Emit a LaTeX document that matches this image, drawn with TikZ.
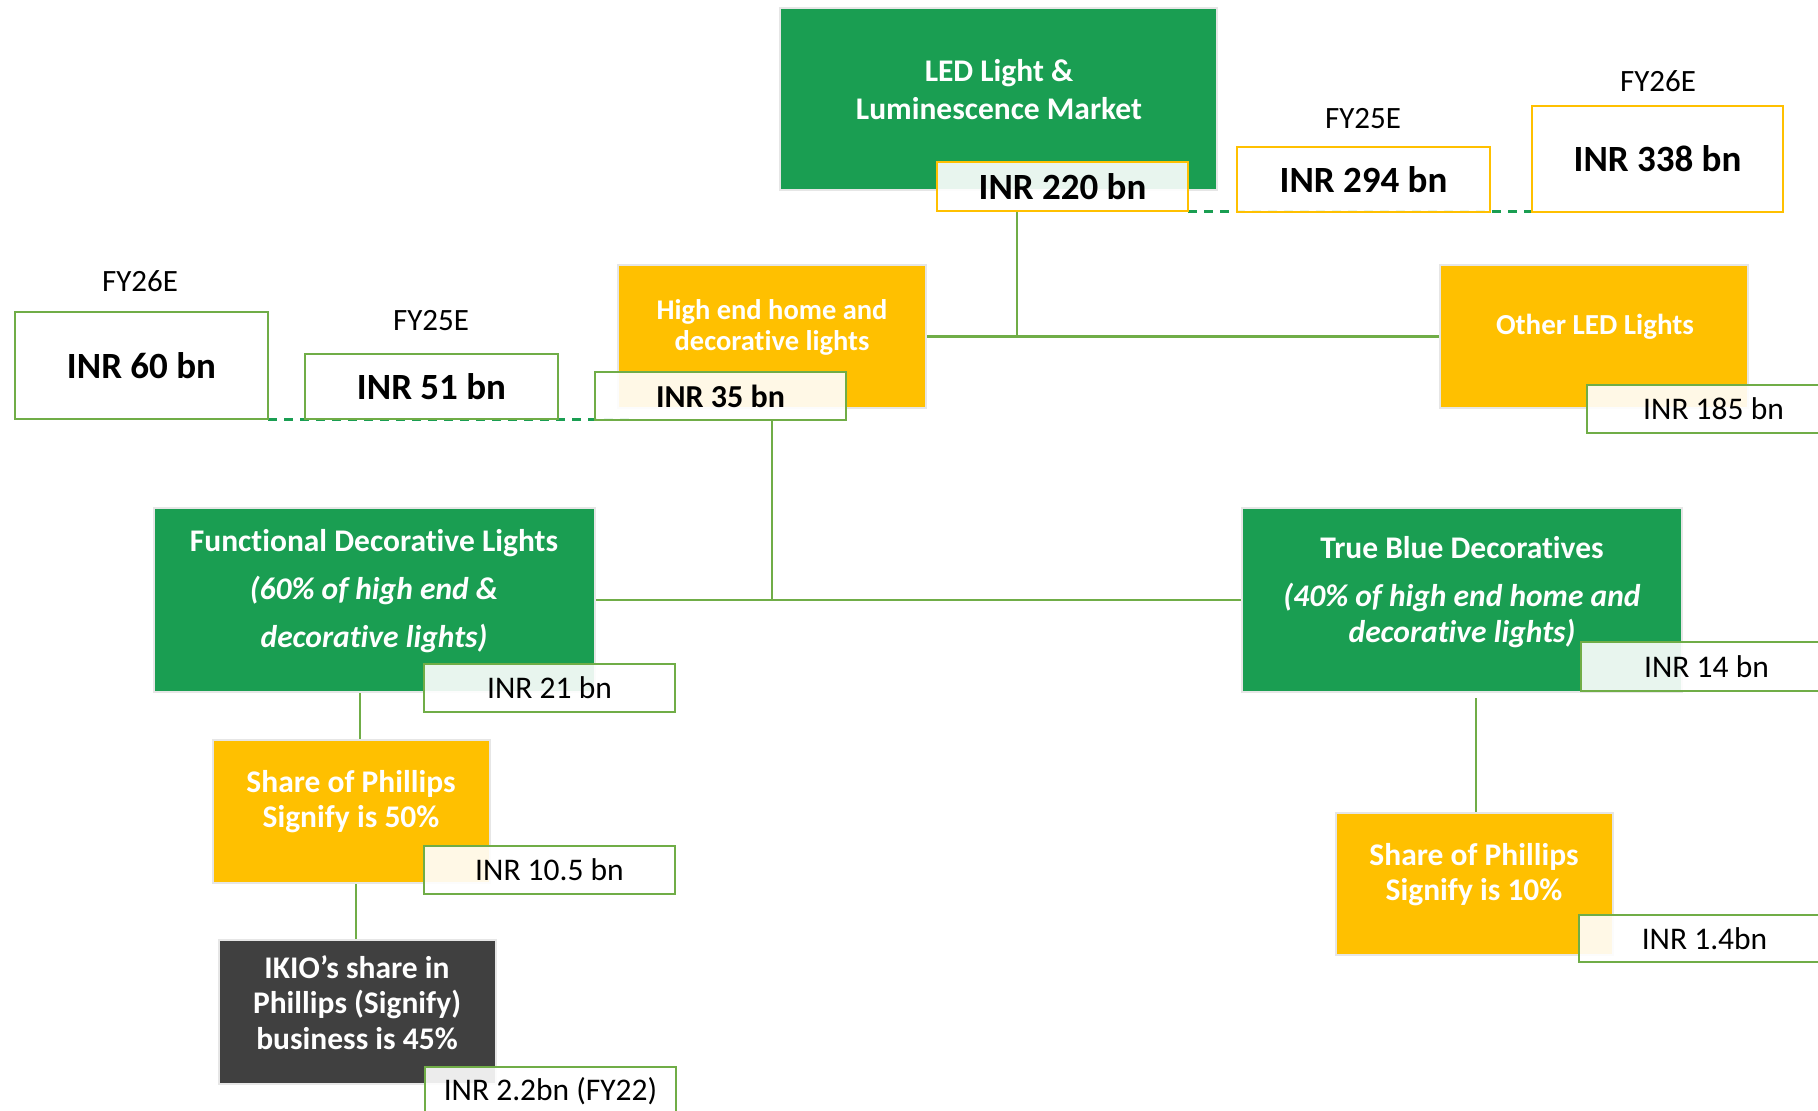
\documentclass[tikz,border=0pt]{standalone}
\usepackage{fontspec}
\setmainfont{Carlito}[Ligatures=NoCommon]
\usetikzlibrary{calc,backgrounds}
\definecolor{ledgreen}{HTML}{1A9E52}
\definecolor{ledorange}{HTML}{FFC000}
\definecolor{leddark}{HTML}{404040}
\definecolor{linegreen}{HTML}{70AD47}
\definecolor{dashgreen}{HTML}{1A9E52}
\definecolor{boxgray}{HTML}{E6E6E6}
\begin{document}
\begin{tikzpicture}[x=1pt,y=-1pt,
  mainbox/.style={draw=boxgray, line width=2.5pt, inner sep=0pt, outer sep=0pt},
  valbox/.style={draw=#1, line width=2.5pt, fill=white, fill opacity=0.9, text opacity=1, inner sep=0pt, outer sep=0pt, text=black},
  wtxt/.style={text=white, align=center, inner sep=0pt},
  conn/.style={draw=linegreen, line width=2.5pt},
  dashln/.style={draw=dashgreen, line width=3pt, dash pattern=on 9pt off 7pt},
  fy/.style={font=\fontsize{31}{34}\selectfont, inner sep=0pt},
  bignum/.style={font=\bfseries\fontsize{37}{40}\selectfont},
  smallnum/.style={font=\fontsize{31.5}{34}\selectfont},
]
\useasboundingbox (0,0) rectangle (1818,1111);

% ---- main boxes ----
\node[mainbox, fill=ledgreen, minimum width=437pt, minimum height=182pt] (led) at (998.5,99) {};
\node[wtxt, font=\bfseries\fontsize{31.5}{38}\selectfont] (ledt) at (999,90) {LED Light \&\\Luminescence Market};

\node[mainbox, fill=ledorange, minimum width=308pt, minimum height=143pt] (highend) at (772,336.5) {};
\node[wtxt, font=\bfseries\fontsize{28.5}{31}\selectfont] (highendt) at (772,327.5) {High end home and\\decorative lights};

\node[mainbox, fill=ledorange, minimum width=308pt, minimum height=143pt] (other) at (1594,336.5) {};
\node[wtxt, font=\bfseries\fontsize{29}{32}\selectfont] (othert) at (1595,327) {Other LED Lights};

\node[mainbox, fill=ledgreen, minimum width=441pt, minimum height=184pt] (fdl) at (374.5,600) {};
\node[wtxt, font=\bfseries\fontsize{31.5}{48}\selectfont] (fdlt) at (374,591) {Functional Decorative Lights\\\textit{(60\% of high end \&}\\\textit{decorative lights)}};

\node[mainbox, fill=ledgreen, minimum width=440pt, minimum height=184pt] (tbd) at (1462,600) {};
\node[wtxt, font=\bfseries\fontsize{31.5}{35}\selectfont] (tbdt) at (1462,548) {True Blue Decoratives};
\node[wtxt, font=\bfseries\itshape\fontsize{31.5}{36}\selectfont] (tbdi) at (1462,615) {(40\% of high end home and\\decorative lights)};

\node[mainbox, fill=ledorange, minimum width=277pt, minimum height=143pt] (share50) at (351.5,811.5) {};
\node[wtxt, font=\bfseries\fontsize{31.5}{35}\selectfont] (share50t) at (351,802) {Share of Phillips\\Signify is 50\%};

\node[mainbox, fill=leddark, minimum width=277pt, minimum height=144pt] (ikio) at (357.5,1012) {};
\node[wtxt, font=\bfseries\fontsize{31.5}{35.5}\selectfont] (ikiot) at (357,1002.5) {IKIO’s share in\\Phillips (Signify)\\business is 45\%};

\node[mainbox, fill=ledorange, minimum width=277pt, minimum height=142pt] (share10) at (1474.5,884) {};
\node[wtxt, font=\bfseries\fontsize{31.5}{35}\selectfont] (share10t) at (1474,875) {Share of Phillips\\Signify is 10\%};

% ---- value boxes ----
\node[valbox=ledorange, bignum, minimum width=251pt, minimum height=49pt] (v220) at (1062.5,186.5) {INR 220 bn};
\node[valbox=ledorange, bignum, minimum width=253pt, minimum height=65pt] (v294) at (1363.5,179.5) {INR 294 bn};
\node[valbox=ledorange, bignum, minimum width=251pt, minimum height=106pt] (v338) at (1657.5,159) {INR 338 bn};
\node[valbox=linegreen, bignum, minimum width=253pt, minimum height=107pt] (v60) at (141.5,365.5) {INR 60 bn};
\node[valbox=linegreen, bignum, minimum width=253pt, minimum height=65pt] (v51) at (431.5,386.5) {INR 51 bn};
\node[valbox=linegreen, font=\bfseries\fontsize{32}{35}\selectfont, minimum width=251pt, minimum height=48pt] (v35) at (720.5,396) {INR 35 bn};
\node[valbox=linegreen, smallnum, minimum width=253pt, minimum height=48pt] (v185) at (1713.5,409) {INR 185 bn};
\node[valbox=linegreen, smallnum, minimum width=251pt, minimum height=48pt] (v21) at (549.5,688) {INR 21 bn};
\node[valbox=linegreen, smallnum, minimum width=251pt, minimum height=48pt] (v105) at (549.5,870) {INR 10.5 bn};
\node[valbox=linegreen, smallnum, minimum width=251pt, minimum height=48pt] (v22) at (550.5,1091) {INR 2.2bn (FY22)};
\node[valbox=linegreen, smallnum, minimum width=251pt, minimum height=49pt] (v14) at (1706.5,666.5) {INR 14 bn};
\node[valbox=linegreen, smallnum, minimum width=251pt, minimum height=47pt] (v14b) at (1704.5,938.5) {INR 1.4bn};

% ---- year labels ----
\node[fy] (fy25r) at (1363,119) {FY25E};
\node[fy] (fy26r) at (1658,81) {FY26E};
\node[fy] (fy26l) at (140,281) {FY26E};
\node[fy] (fy25l) at (431,321) {FY25E};

% ---- connectors ----
\coordinate (j1) at (1017,337);
\coordinate (j2) at (360,0);
\coordinate (j3) at (356,0);
\coordinate (j4) at (1476,698);
\coordinate (j5) at (632,0);
\begin{scope}[on background layer]
  \draw[conn] (v220.south -| j1) -- (j1);
  \draw[conn] (highend.east) -- (other.west);
  \draw[conn] (v35.south -| highend.south) -- (fdl.east -| highend.south);
  \draw[conn] (fdl.east) -- (tbd.west);
  \draw[conn] (fdl.south -| j2) -- (share50.north -| j2);
  \draw[conn] (share50.south -| j3) -- (ikio.north -| j3);
  \draw[conn] (j4) -- (share10.north -| j4);
  \draw[dashln] (v220.south east) -- (v220.south east -| v338.west);
  \draw[dashln] (v60.south east) -- (v60.south east -| j5);
\end{scope}
\end{tikzpicture}
\end{document}
